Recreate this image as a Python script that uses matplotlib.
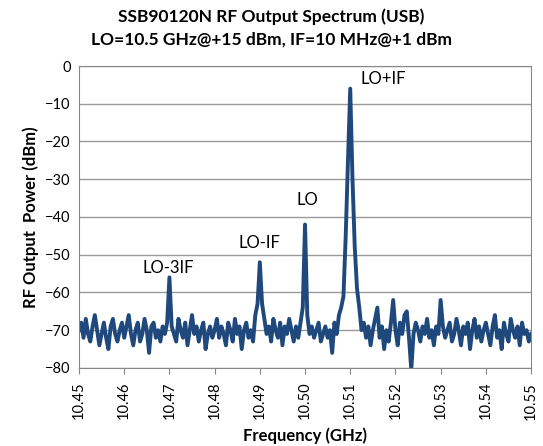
import numpy as np
import matplotlib
matplotlib.use("Agg")
import matplotlib.pyplot as plt

plt.rcParams.update({"font.family": ["Lato", "DejaVu Sans"], "font.size": 10})

# frequency grid, GHz (0.5 MHz steps)
f_start = 10.45
f_step = 0.0005
power = [
    -70, -68, -72, -67, -71, -73, -69, -66, -70, -74, -71, -68, -72, -75, -69, -67, -71, -73, -70, -68,
    -72, -69, -66, -71, -74, -70, -68, -73, -71, -67, -70, -76, -69, -68, -72, -70, -73, -69, -71, -68,
    -56, -69, -71, -73, -67, -70, -72, -68, -74, -70, -66, -71, -69, -73, -70, -68, -75, -71, -69, -72,
    -70, -67, -72, -69, -71, -74, -68, -70, -73, -67, -71, -69, -75, -70, -68, -72, -70, -73, -66, -63,
    -52, -63, -67, -71, -69, -73, -67, -70, -72, -68, -74, -69, -71, -67, -70, -73, -69, -72, -68, -64,
    -42, -66, -71, -69, -72, -70, -68, -73, -71, -69, -72, -70, -76, -68, -71, -66, -64, -61, -45, -25,
    -6, -30, -48, -59, -64, -70, -68, -72, -69, -74, -70, -67, -64, -72, -69, -75, -70, -73, -68, -62,
    -70, -74, -68, -71, -66, -65, -72, -80.5, -71, -68, -70, -73, -69, -71, -67, -72, -70, -74, -69, -71,
    -62, -69, -72, -70, -68, -73, -71, -67, -70, -74, -69, -71, -68, -75, -70, -67, -72, -69, -73, -70,
    -68, -71, -74, -69, -66, -72, -70, -75, -68, -71, -73, -67, -70, -72, -69, -74, -68, -71, -70, -73,
    -71,
]
freq = f_start + f_step * np.arange(len(power))

labels = ["LO-3IF", "LO-IF", "LO", "LO+IF"]
label_f = [10.4697, 10.49, 10.5005, 10.5173]
label_p = [-53.5, -46.9, -35.5, -3.4]

fig = plt.figure(figsize=(5.43, 4.46), dpi=100)
ax = fig.add_axes([0.1455, 0.175, 0.8325, 0.677])
ax.plot(freq, power, color="#1F497D", lw=2.8, solid_joinstyle="round")
ax.set_xlim(10.45, 10.55)
ax.set_ylim(-80, 0)
ax.set_xticks(np.round(np.arange(10.45, 10.5501, 0.01), 2))
ax.set_xticklabels(["%.2f" % t for t in np.arange(10.45, 10.5501, 0.01)], rotation=90)
ax.set_yticks(np.arange(-80, 1, 10))
ax.yaxis.grid(True, color="#999999", lw=1)
ax.set_axisbelow(True)
for s in ax.spines.values():
    s.set_color("#888888")
ax.tick_params(length=0, pad=6, labelsize=10.5)
ax.tick_params(axis="x", length=4, color="#888888", direction="out")

for t, x, y in zip(labels, label_f, label_p):
    ax.text(x, y, t, ha="center", va="center", fontsize=12)

ax.set_xlabel("Frequency (GHz)", fontweight="bold", fontsize=12, labelpad=6)
ax.set_ylabel("RF Output  Power (dBm)", fontweight="bold", fontsize=12, labelpad=4)
fig.text(0.5, 0.962, "SSB90120N RF Output Spectrum (USB)", ha="center", va="center",
         fontweight="bold", fontsize=12.5)
fig.text(0.5, 0.912, "LO=10.5 GHz@+15 dBm, IF=10 MHz@+1 dBm", ha="center", va="center",
         fontweight="bold", fontsize=12.5)

fig.savefig("out.png", dpi=100)
